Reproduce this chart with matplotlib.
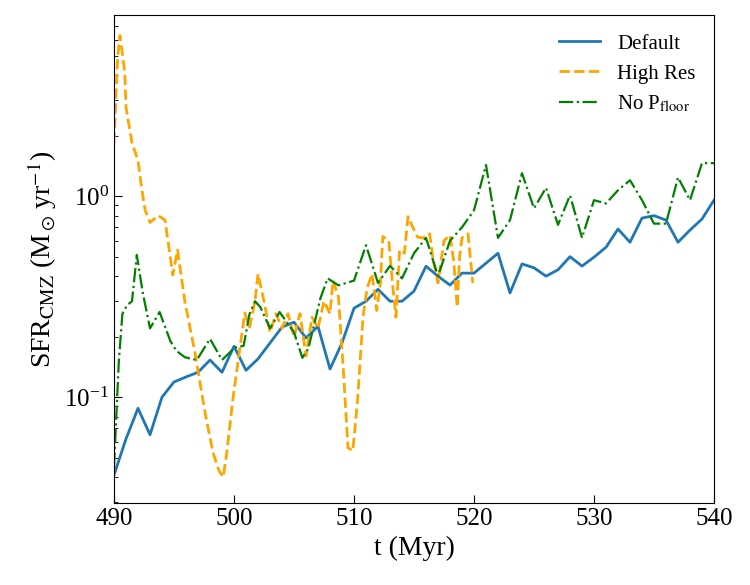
import matplotlib
matplotlib.use('Agg')
import matplotlib.pyplot as plt

plt.rcParams['font.family'] = ['Liberation Serif', 'DejaVu Serif']
plt.rcParams['mathtext.fontset'] = 'stix'

# Default run: one snapshot per Myr
t_default = list(range(490, 541))
sfr_default = [0.041, 0.062, 0.088, 0.065, 0.100, 0.119, 0.126, 0.133, 0.153, 0.133,
               0.179, 0.136, 0.155, 0.186, 0.223, 0.236, 0.197, 0.225, 0.138, 0.186,
               0.277, 0.300, 0.344, 0.300, 0.300, 0.337, 0.448, 0.400, 0.361, 0.414,
               0.414, 0.464, 0.520, 0.330, 0.460, 0.440, 0.400, 0.430, 0.500, 0.449,
               0.497, 0.557, 0.686, 0.590, 0.778, 0.800, 0.760, 0.590, 0.678, 0.770,
               0.955]

# High resolution run: finer output cadence, stops at ~520 Myr
t_highres = [490.0, 490.3, 490.5, 490.7, 490.9, 491.0, 491.5, 492.0, 492.3, 492.6,
             493.0, 493.7, 494.25, 494.9, 495.3, 495.9, 496.75, 497.6, 498.25, 498.75,
             499.1, 499.4, 499.9, 500.5, 500.9, 501.3, 501.75, 502.0, 502.5, 503.0,
             503.5, 504.0, 504.5, 505.0, 505.5, 506.0, 506.5, 507.0, 507.5, 508.0,
             508.25, 508.7, 509.1, 509.5, 509.9, 510.3, 510.75, 511.1, 511.5, 511.9,
             512.2, 512.4, 512.9, 513.2, 513.5, 513.8, 514.2, 514.5, 514.9, 515.3,
             515.75, 516.3, 516.6, 517.0, 517.5, 518.0, 518.3, 518.6, 518.8, 519.0,
             519.5, 519.9]
sfr_highres = [1.84, 4.9, 6.3, 5.1, 4.1, 2.77, 1.84, 1.51, 1.1, 0.85,
               0.74, 0.80, 0.76, 0.405, 0.54, 0.30, 0.166, 0.083, 0.053, 0.043,
               0.040, 0.053, 0.097, 0.177, 0.262, 0.223, 0.30, 0.41, 0.30, 0.21,
               0.26, 0.22, 0.26, 0.20, 0.26, 0.16, 0.25, 0.22, 0.30, 0.26,
               0.38, 0.316, 0.14, 0.056, 0.054, 0.097, 0.25, 0.35, 0.41, 0.27,
               0.37, 0.63, 0.60, 0.37, 0.25, 0.54, 0.52, 0.79, 0.70, 0.625,
               0.62, 0.65, 0.48, 0.37, 0.60, 0.64, 0.48, 0.28, 0.50, 0.62,
               0.65, 0.37]

# No pressure floor run
t_nofloor = [490.0, 490.4, 490.7, 491.1, 491.5, 491.9, 492.4, 493.0, 493.8, 494.7,
             495.2, 495.9, 496.9, 498.0, 499.0, 500.1, 500.8, 501.3, 501.75, 502.2,
             503.0, 503.8, 505.0, 505.7, 506.2, 507.2, 507.8, 508.7, 510.0, 511.0,
             512.0, 513.0, 514.0, 515.0, 516.0, 517.0, 518.0, 519.0, 520.0, 521.0,
             522.0, 523.0, 524.0, 525.0, 526.0, 527.0, 528.0, 529.0, 530.0, 531.0,
             532.0, 533.0, 534.0, 535.0, 536.0, 537.0, 538.0, 539.0, 540.0]
sfr_nofloor = [0.045, 0.15, 0.26, 0.287, 0.30, 0.51, 0.33, 0.22, 0.265, 0.19,
               0.17, 0.158, 0.153, 0.195, 0.153, 0.177, 0.18, 0.26, 0.30, 0.28,
               0.22, 0.265, 0.21, 0.157, 0.175, 0.31, 0.39, 0.36, 0.38, 0.57,
               0.37, 0.45, 0.39, 0.52, 0.62, 0.40, 0.60, 0.70, 0.85, 1.43,
               0.62, 0.76, 1.30, 0.87, 1.10, 0.72, 1.01, 0.62, 0.955, 0.92,
               1.07, 1.20, 0.955, 0.73, 0.73, 1.24, 0.955, 1.46, 1.46]

fig = plt.figure(figsize=(7.5, 5.85), dpi=100)
ax = fig.add_axes([0.152, 0.140, 0.800, 0.834])

ax.plot(t_default, sfr_default, color='#1f77b4', lw=2.0, label='Default')
ax.plot(t_highres, sfr_highres, color='orange', lw=2.0, ls='--', label='High Res')
ax.plot(t_nofloor, sfr_nofloor, color='green', lw=1.6, ls='-.', label=r'No P$_{\rm floor}$')

ax.set_yscale('log')
ax.set_xlim(490, 540)
ax.set_ylim(0.0297, 7.95)
ax.set_xlabel('t (Myr)', fontsize=20)
ax.set_ylabel(r'SFR$_{\rm CMZ}$ (M$_\odot\,$yr$^{-1}$)', fontsize=20)
ax.tick_params(which='both', direction='in', labelsize=18)
ax.tick_params(which='major', length=6)
ax.tick_params(which='minor', length=3)
ax.legend(loc='upper right', frameon=False, fontsize=15)

plt.savefig('out.png', dpi=100)
